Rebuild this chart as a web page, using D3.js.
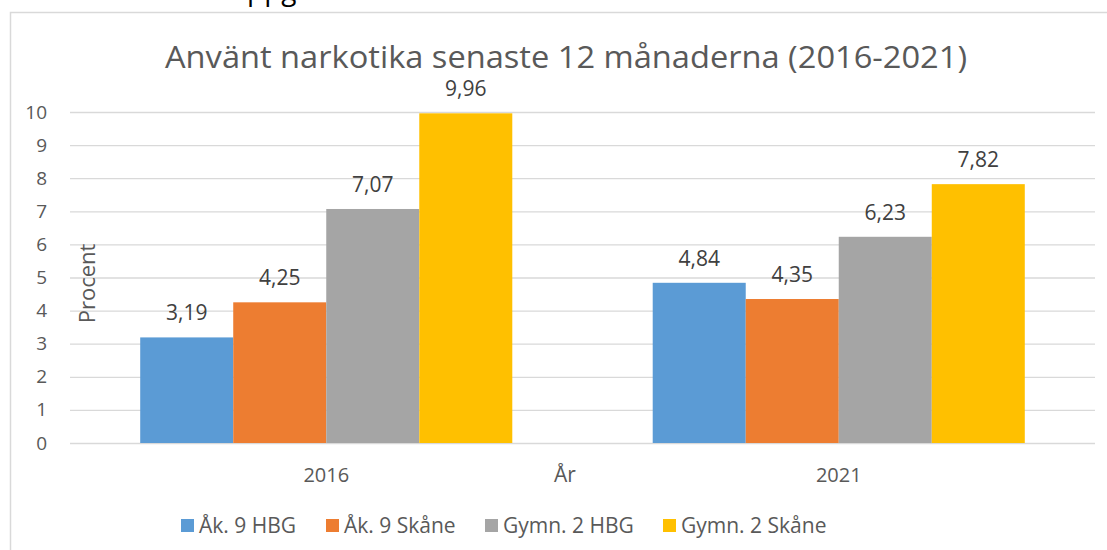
<!DOCTYPE html>
<html>
<head>
<meta charset="utf-8">
<script src="https://cdn.jsdelivr.net/npm/d3@7"></script>
<style>
  body { margin: 0; background: #fff; }
  svg text { font-family: "Open Sans", "Noto Sans", sans-serif; }
</style>
</head>
<body>
<div id="wrapper"></div>
<script>
// data
const years = ["2016", "2021"]
const seriesNames = ["Åk. 9 HBG", "Åk. 9 Skåne", "Gymn. 2 HBG", "Gymn. 2 Skåne"]
const values2016 = [3.19, 4.25, 7.07, 9.96]
const values2021 = [4.84, 4.35, 6.23, 7.82]
const yTicks = [0, 1, 2, 3, 4, 5, 6, 7, 8, 9, 10]
const seriesColors = ["#5B9BD5", "#ED7D31", "#A5A5A5", "#FFC000"]

const data = years.map((y, i) => ({
    year: y,
    values: (i === 0 ? values2016 : values2021).map((v, j) => ({ name: seriesNames[j], value: v }))
}))

const dimensions = {
    width: 1107,
    height: 550,
    margins: { top: 112, right: 12, left: 70, bottom: 107 }
}
dimensions.boundedWidth = dimensions.width - dimensions.margins.left - dimensions.margins.right
dimensions.boundedHeight = dimensions.height - dimensions.margins.top - dimensions.margins.bottom

const wrapper = d3.select("#wrapper")
    .append("svg")
        .attr("width", dimensions.width)
        .attr("height", dimensions.height)

// cut-off text above the chart frame (only the descenders show)
wrapper.append("text")
    .attr("x", 247)
    .attr("y", 0)
    .attr("fill", "#000")
    .style("font-size", "28px")
    .text("ppg")

// chart frame
wrapper.append("rect")
    .attr("x", 10.5)
    .attr("y", 12.5)
    .attr("width", 1120)
    .attr("height", 560)
    .attr("fill", "none")
    .attr("stroke", "#d9d9d9")
    .attr("stroke-width", 1.5)

wrapper.append("text")
    .attr("x", 566)
    .attr("y", 68)
    .attr("text-anchor", "middle")
    .attr("fill", "#595959")
    .style("font-size", "31px")
    .attr("textLength", 802)
    .attr("lengthAdjust", "spacingAndGlyphs")
    .text("Använt narkotika senaste 12 månaderna (2016-2021)")

const bounds = wrapper.append("g")
    .attr("transform", `translate(${dimensions.margins.left},${dimensions.margins.top})`)

// scales
const xScale = d3.scaleBand()
    .domain(years)
    .range([0, dimensions.boundedWidth])
    .paddingInner(0.274)
    .paddingOuter(0.137)

const xInner = d3.scaleBand()
    .domain(seriesNames)
    .range([0, xScale.bandwidth()])

const yScale = d3.scaleLinear()
    .domain([0, 10])
    .range([dimensions.boundedHeight, 0])

const colorScale = d3.scaleOrdinal()
    .domain(seriesNames)
    .range(seriesColors)

// gridlines + y axis
const yAxisGenerator = d3.axisLeft(yScale)
    .tickValues(yTicks)
    .tickSize(-dimensions.boundedWidth)
    .tickPadding(23)

const yAxis = bounds.append("g")
    .call(yAxisGenerator)
yAxis.select(".domain").remove()
yAxis.selectAll(".tick line").attr("stroke", "#d9d9d9").attr("stroke-width", 1.3)
yAxis.selectAll(".tick text")
    .attr("fill", "#595959")
    .style("font-size", "19px")

// bars
const groups = bounds.selectAll(".group")
    .data(data)
    .enter().append("g")
        .attr("transform", d => `translate(${xScale(d.year)},0)`)

groups.selectAll("rect")
    .data(d => d.values)
    .enter().append("rect")
        .attr("x", d => xInner(d.name))
        .attr("y", d => yScale(d.value))
        .attr("width", xInner.bandwidth())
        .attr("height", d => yScale(0) - yScale(d.value))
        .attr("fill", d => colorScale(d.name))

groups.selectAll(".label")
    .data(d => d.values)
    .enter().append("text")
        .attr("x", d => xInner(d.name) + xInner.bandwidth() / 2)
        .attr("y", d => yScale(d.value) - 17)
        .attr("text-anchor", "middle")
        .attr("fill", "#404040")
        .style("font-size", "21px")
        .text(d => d3.format(".2f")(d.value).replace(".", ","))

// x axis
const xAxis = bounds.append("g")
    .attr("transform", `translate(0,${dimensions.boundedHeight})`)
    .call(d3.axisBottom(xScale).tickSize(0).tickPadding(25))
xAxis.select(".domain").remove()
xAxis.selectAll(".tick text")
    .attr("fill", "#595959")
    .style("font-size", "20px")

xAxis.append("text")
    .attr("x", 495)
    .attr("y", 39)
    .attr("text-anchor", "middle")
    .attr("fill", "#595959")
    .style("font-size", "21px")
    .text("År")

yAxis.append("text")
    .attr("transform", `translate(25,${yScale(4.82)}) rotate(-90)`)
    .attr("text-anchor", "middle")
    .attr("fill", "#595959")
    .style("font-size", "22px")
    .text("Procent")

// legend
const legendX = [181, 326, 485, 663]
const legend = wrapper.append("g")
    .attr("transform", "translate(0,526)")

const items = legend.selectAll("g")
    .data(seriesNames)
    .enter().append("g")
        .attr("transform", (d, i) => `translate(${legendX[i]},0)`)

items.append("rect")
    .attr("x", 0)
    .attr("y", -7)
    .attr("width", 13)
    .attr("height", 13)
    .attr("fill", d => colorScale(d))

items.append("text")
    .attr("x", 18)
    .attr("y", 7)
    .attr("fill", "#595959")
    .style("font-size", "21px")
    .text(d => d)
</script>
</body>
</html>
